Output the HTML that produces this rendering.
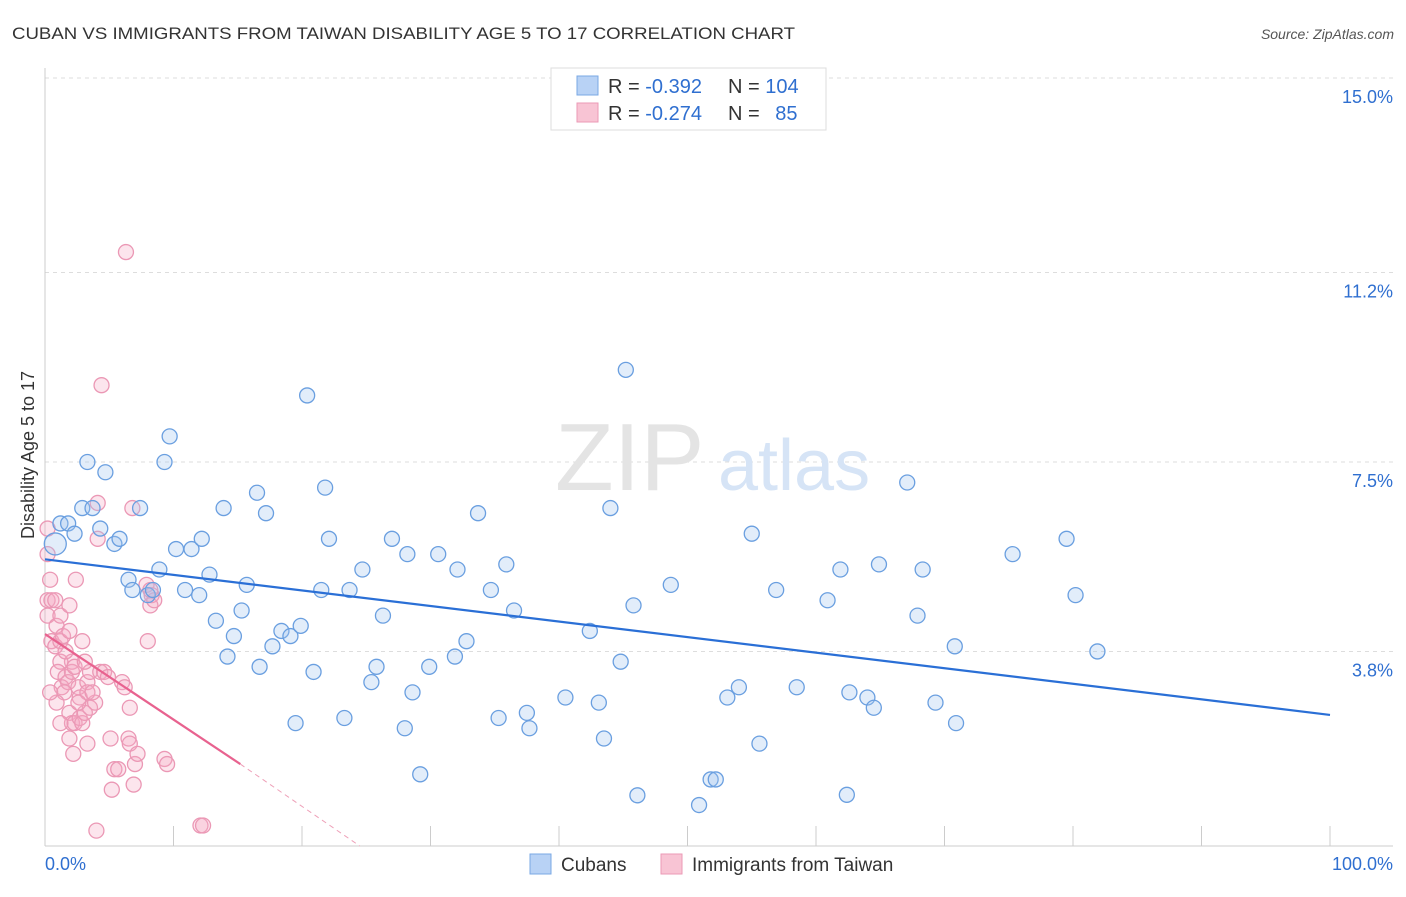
<!DOCTYPE html>
<html><head><meta charset="utf-8"><style>
body{margin:0;background:#fff;font-family:"Liberation Sans",sans-serif;}
svg text{font-family:"Liberation Sans",sans-serif;}
</style></head><body>
<svg width="1406" height="892" xmlns="http://www.w3.org/2000/svg">
<text x="12" y="39" font-size="17" fill="#333" textLength="783" lengthAdjust="spacingAndGlyphs">CUBAN VS IMMIGRANTS FROM TAIWAN DISABILITY AGE 5 TO 17 CORRELATION CHART</text>
<text x="1394" y="39" font-size="14" fill="#555" font-style="italic" text-anchor="end">Source: ZipAtlas.com</text>
<g id="grid"></g>
<g id="axes"></g>
<text x="555" y="490" font-size="96" fill="#e4e4e4" font-family="Liberation Serif">ZIP</text>
<text x="718" y="490" font-size="72" fill="#d6e4f6">atlas</text>
<g id="pts"></g>
<g id="trend"></g>
<text transform="translate(34,455) rotate(-90)" font-size="18" fill="#333" text-anchor="middle">Disability Age 5 to 17</text>
<g>
<rect x="551" y="68" width="275" height="62" fill="#fff" stroke="#ddd"/>
<rect x="577" y="76" width="21" height="19" fill="#b8d2f5" stroke="#7aa8e4"/>
<rect x="577" y="103" width="21" height="19" fill="#f8c4d4" stroke="#eb9ab6"/>
<text x="608" y="93" font-size="20" fill="#333">R = <tspan fill="#2f6fd0">-0.392</tspan></text>
<text x="728" y="93" font-size="20" fill="#333">N = <tspan fill="#2f6fd0">104</tspan></text>
<text x="608" y="120" font-size="20" fill="#333">R = <tspan fill="#2f6fd0">-0.274</tspan></text>
<text x="728" y="120" font-size="20" fill="#333">N = <tspan fill="#2f6fd0" dx="10">85</tspan></text>
</g>
<g>
<rect x="530" y="854" width="21" height="20" fill="#b8d2f5" stroke="#7aa8e4"/>
<text x="561" y="871" font-size="19" fill="#333">Cubans</text>
<rect x="661" y="854" width="21" height="20" fill="#f8c4d4" stroke="#eb9ab6"/>
<text x="692" y="871" font-size="19" fill="#333">Immigrants from Taiwan</text>
</g>
</svg>
<script>
const yTicks=[3.8,7.5,11.2,15.0];
const yTickLabels=["3.8%","7.5%","11.2%","15.0%"];
const xTicks=[0,10,20,30,40,50,60,70,80,90,100];
const cubanX=[0.8,1.2,1.8,2.3,2.9,3.7,3.3,4.3,4.7,5.4,5.8,6.5,6.8,7.4,8.0,8.4,8.9,9.3,9.7,10.2,10.9,11.4,12.0,12.2,12.8,13.3,13.9,14.2,14.7,15.3,15.7,16.5,16.7,17.2,17.7,18.4,19.1,19.5,19.9,20.4,20.9,21.5,21.8,22.1,23.3,23.7,24.7,25.4,25.8,26.3,27.0,28.0,28.2,28.6,29.2,29.9,30.6,31.9,32.1,32.8,33.7,34.7,35.3,35.9,36.5,37.5,37.7,40.5,42.4,43.1,43.5,44.0,44.8,45.2,45.8,46.1,48.7,50.9,51.8,52.2,53.1,54.0,55.0,55.6,56.9,58.5,60.9,61.9,62.4,62.6,64.0,64.5,64.9,67.1,67.9,68.3,69.3,70.8,70.9,75.3,79.5,80.2,81.9];
const cubanY=[5.9,6.3,6.3,6.1,6.6,6.6,7.5,6.2,7.3,5.9,6.0,5.2,5.0,6.6,4.9,5.0,5.4,7.5,8.0,5.8,5.0,5.8,4.9,6.0,5.3,4.4,6.6,3.7,4.1,4.6,5.1,6.9,3.5,6.5,3.9,4.2,4.1,2.4,4.3,8.8,3.4,5.0,7.0,6.0,2.5,5.0,5.4,3.2,3.5,4.5,6.0,2.3,5.7,3.0,1.4,3.5,5.7,3.7,5.4,4.0,6.5,5.0,2.5,5.5,4.6,2.6,2.3,2.9,4.2,2.8,2.1,6.6,3.6,9.3,4.7,0.99,5.1,0.8,1.3,1.3,2.9,3.1,6.1,2.0,5.0,3.1,4.8,5.4,1.0,3.0,2.9,2.7,5.5,7.1,4.5,5.4,2.8,3.9,2.4,5.7,6.0,4.9,3.8];
const taiwanX=[0.2,0.2,0.4,0.2,0.5,0.8,0.2,0.9,1.2,0.5,0.8,1.2,1.4,1.9,1.9,2.1,1.2,1.0,1.6,1.3,1.8,2.1,2.3,2.6,2.7,1.9,2.1,2.3,2.7,2.9,3.1,3.5,3.3,3.9,3.5,4.3,2.4,2.2,3.3,4.1,4.1,4.0,4.6,4.9,5.1,5.4,5.2,5.7,6.0,6.2,6.5,6.6,6.3,4.4,6.6,6.8,7.0,6.9,7.2,7.9,8.0,8.2,8.3,8.5,8.2,9.3,9.5,12.1,12.3,2.9,1.5,3.3,2.6,3.7,1.6,3.1,0.9,0.4,1.2,1.9];
const taiwanY=[6.2,5.7,5.2,4.8,4.8,4.8,4.5,4.3,4.5,4.0,3.9,4.0,4.1,4.7,4.2,3.6,3.6,3.4,3.3,3.1,3.2,3.4,3.5,3.1,2.9,2.6,2.4,2.4,2.5,2.4,2.6,2.7,3.2,2.8,3.4,3.4,5.2,1.8,2.0,6.7,6.0,0.3,3.4,3.3,2.1,1.5,1.1,1.5,3.2,3.1,2.1,2.0,11.6,9.0,2.7,6.6,1.6,1.2,1.8,5.1,4.0,4.7,4.9,4.8,5.0,1.7,1.6,0.4,0.4,4.0,3.0,3.0,2.8,3.0,3.8,3.6,2.8,3.0,2.4,2.1];
const blueTrend=[0,5.6,100,2.56];
const pinkTrend=[0,4.14,15.2,1.6,24.5,0];
const NS="http://www.w3.org/2000/svg";
const X=v=>45+v*12.85, Y=v=>846-v*51.2;
function mk(t,a,p){const e=document.createElementNS(NS,t);for(const k in a)e.setAttribute(k,a[k]);p.appendChild(e);return e;}
const grid=document.getElementById('grid'),axes=document.getElementById('axes');
yTicks.forEach((t,i)=>{
 const l=mk('line',{x1:45,x2:1393,y1:Y(t),y2:Y(t),stroke:'#ddd','stroke-dasharray':'4,4'},grid);
 
 
 const tx=mk('text',{x:1393,y:Y(t)+25,'font-size':18,fill:'#2f6fd0','text-anchor':'end'},axes);
 tx.textContent=yTickLabels[i];
 
 
});
mk('line',{x1:45,x2:45,y1:68,y2:846,stroke:'#ccc'},axes);
mk('line',{x1:45,x2:1393,y1:846,y2:846,stroke:'#ccc'},axes);
xTicks.forEach(t=>{const l=mk('line',{x1:X(t),x2:X(t),y1:826,y2:846,stroke:'#ccc'},axes);
 
 });
let a=mk('text',{x:45,y:870,'font-size':18,fill:'#2f6fd0'},axes);a.textContent='0.0%';


a=mk('text',{x:1393,y:870,'font-size':18,fill:'#2f6fd0','text-anchor':'end'},axes);a.textContent='100.0%';


const pts=document.getElementById('pts');
taiwanX.forEach((v,i)=>{const c=mk('circle',{cx:X(v),cy:Y(taiwanY[i]),r:7.5,fill:'rgba(245,170,195,0.3)',stroke:'#eb98b5','stroke-width':1.3},pts);
 
 });
cubanX.forEach((v,i)=>{const c=mk('circle',{cx:X(v),cy:Y(cubanY[i]),r:i==0?11:7.5,fill:'rgba(160,196,240,0.3)',stroke:'#6a9fe0','stroke-width':1.3},pts);
 
 });
const tr=document.getElementById('trend');
let l=mk('line',{x1:X(blueTrend[0]),y1:Y(blueTrend[1]),x2:X(blueTrend[2]),y2:Y(blueTrend[3]),stroke:'#2a6fd6','stroke-width':2.2},tr);


l=mk('line',{x1:X(pinkTrend[0]),y1:Y(pinkTrend[1]),x2:X(pinkTrend[2]),y2:Y(pinkTrend[3]),stroke:'#e8628f','stroke-width':2.2},tr);


l=mk('line',{x1:X(pinkTrend[2]),y1:Y(pinkTrend[3]),x2:X(pinkTrend[4]),y2:Y(pinkTrend[5]),stroke:'#eea0b8','stroke-width':1,'stroke-dasharray':'5,4'},tr);


</script>
</body></html>
